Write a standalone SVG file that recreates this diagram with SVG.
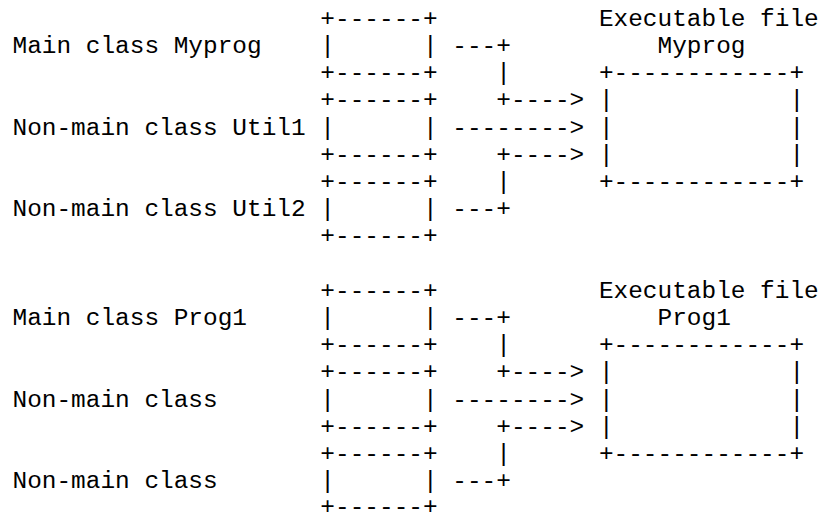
<svg xmlns="http://www.w3.org/2000/svg" width="821" height="514" viewBox="0 0 821 514">
<style>
text{font-family:"Liberation Mono","Courier New",monospace;font-size:24.43px;fill:#000}
</style>
<rect width="821" height="514" fill="#fff"/>
<g id="main-myprog">
<text x="12.5" y="53">Main class Myprog</text>
<text x="320.36" y="25.8">+------+</text>
<text x="320.36" y="53">|</text><text x="422.98" y="53">|</text>
<text x="320.36" y="80.2">+------+</text>
</g>
<g id="util1">
<text x="12.5" y="134.6">Non-main class Util1</text>
<text x="320.36" y="107.4">+------+</text>
<text x="320.36" y="134.6">|</text><text x="422.98" y="134.6">|</text>
<text x="320.36" y="161.8">+------+</text>
</g>
<g id="util2">
<text x="12.5" y="216.2">Non-main class Util2</text>
<text x="320.36" y="189">+------+</text>
<text x="320.36" y="216.2">|</text><text x="422.98" y="216.2">|</text>
<text x="320.36" y="243.4">+------+</text>
</g>
<g id="exe-myprog">
<text x="598.9" y="25.8">Executable file</text>
<text x="657.54" y="53">Myprog</text>
<text x="598.9" y="80.2">+------------+</text>
<text x="598.9" y="107.4">|</text><text x="789.48" y="107.4">|</text>
<text x="598.9" y="134.6">|</text><text x="789.48" y="134.6">|</text>
<text x="598.9" y="161.8">|</text><text x="789.48" y="161.8">|</text>
<text x="598.9" y="189">+------------+</text>
</g>
<g id="main-prog1">
<text x="12.5" y="325">Main class Prog1</text>
<text x="320.36" y="297.8">+------+</text>
<text x="320.36" y="325">|</text><text x="422.98" y="325">|</text>
<text x="320.36" y="352.2">+------+</text>
</g>
<g id="nonmain-a">
<text x="12.5" y="406.6">Non-main class</text>
<text x="320.36" y="379.4">+------+</text>
<text x="320.36" y="406.6">|</text><text x="422.98" y="406.6">|</text>
<text x="320.36" y="433.8">+------+</text>
</g>
<g id="nonmain-b">
<text x="12.5" y="488.2">Non-main class</text>
<text x="320.36" y="461">+------+</text>
<text x="320.36" y="488.2">|</text><text x="422.98" y="488.2">|</text>
<text x="320.36" y="514">+------+</text>
</g>
<g id="exe-prog1">
<text x="598.9" y="297.8">Executable file</text>
<text x="657.54" y="325">Prog1</text>
<text x="598.9" y="352.2">+------------+</text>
<text x="598.9" y="379.4">|</text><text x="789.48" y="379.4">|</text>
<text x="598.9" y="406.6">|</text><text x="789.48" y="406.6">|</text>
<text x="598.9" y="433.8">|</text><text x="789.48" y="433.8">|</text>
<text x="598.9" y="461">+------------+</text>
</g>
<g id="connectors">
<text x="452.3" y="53">---+</text>
<text x="496.28" y="80.2">|</text>
<text x="496.28" y="107.4">+----&gt;</text>
<text x="452.3" y="134.6">--------&gt;</text>
<text x="496.28" y="161.8">+----&gt;</text>
<text x="496.28" y="189">|</text>
<text x="452.3" y="216.2">---+</text>
<text x="452.3" y="325">---+</text>
<text x="496.28" y="352.2">|</text>
<text x="496.28" y="379.4">+----&gt;</text>
<text x="452.3" y="406.6">--------&gt;</text>
<text x="496.28" y="433.8">+----&gt;</text>
<text x="496.28" y="461">|</text>
<text x="452.3" y="488.2">---+</text>
</g>
</svg>
